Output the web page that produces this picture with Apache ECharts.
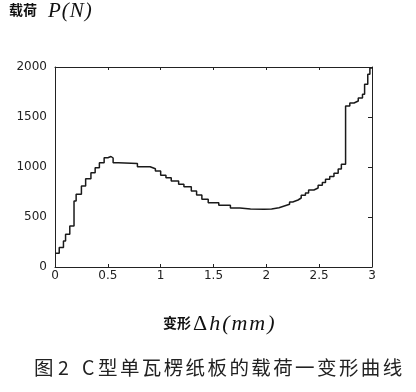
<!DOCTYPE html>
<html>
<head>
<meta charset="utf-8">
<script src="https://cdn.jsdelivr.net/npm/echarts@6/dist/echarts.min.js"></script>
<style>html,body{margin:0;padding:0;background:#fff;}#c{width:416px;height:392px;}</style>
</head>
<body>
<div id="c"></div>
<script>
// Deformation Δh (mm) where each load step begins
var deformation = [0, 0.04, 0.08, 0.10, 0.14, 0.18, 0.20, 0.25, 0.29, 0.34, 0.38, 0.42, 0.465, 0.50, 0.53, 0.55, 0.60,
  0.78, 0.90, 0.95, 1.00, 1.05, 1.10, 1.17, 1.22, 1.29, 1.34, 1.39, 1.45, 1.55, 1.66, 1.75, 1.85, 1.98,
  2.05, 2.12, 2.17, 2.22, 2.25, 2.30, 2.33, 2.37, 2.40, 2.45, 2.49, 2.53, 2.56, 2.60, 2.64, 2.68, 2.71,
  2.75, 2.79, 2.83, 2.87, 2.91, 2.93, 2.96, 2.98, 3.00];
// Load P (N)
var load = [137, 194, 260, 327, 410, 660, 727, 810, 883, 943, 993, 1043, 1093, 1105, 1090, 1043, 1035,
  1003, 983, 960, 917, 893, 860, 827, 803, 760, 720, 677, 643, 617, 590, 580, 577, 580,
  593, 610, 627, 650, 670, 690, 717, 740, 770, 790, 817, 845, 877, 905, 937, 980, 1027,
  1610, 1640, 1660, 1690, 1727, 1827, 1927, 1990, 2000];
var xTickLabels = ['0', '0.5', '1', '1.5', '2', '2.5', '3'];
var yTickLabels = ['0', '500', '1000', '1500', '2000'];
var titleCN = '载荷';
var titleSym = 'P(N)';
var xNameCN = '变形';
var xNameDelta = 'Δ';
var xNameSym = 'h(mm)';
var caption = ['图', '2', 'C', '型', '单', '瓦', '楞', '纸', '板', '的', '载', '荷', '一', '变', '形', '曲', '线'];

var chart = echarts.init(document.getElementById('c'), null, {renderer: 'canvas'});
var pts = deformation.map(function (x, i) { return [x, load[i]]; });

var capX = [34, 58, 82];
var capGraphics = caption.map(function (ch, i) {
  var x = i < 3 ? capX[i] : 98 + (i - 3) * 21.9;
  return {
    type: 'text', left: x, top: 358,
    style: {text: ch, font: '400 19.5px "Noto Sans CJK SC", sans-serif', fill: '#222'}
  };
});

function symText(str) {
  return str.split('').map(function (c) { return '{b|' + c + '}'; }).join('');
}

var axisLineStyle = {show: true, onZero: false, lineStyle: {color: '#222', width: 1}};

var option = {
  animation: false,
  grid: {left: 55, right: 44, top: 67, height: 200},
  xAxis: [{
    type: 'value', min: 0, max: 3, interval: 0.5, position: 'bottom',
    axisLine: axisLineStyle,
    axisTick: {show: true, inside: true, length: 3, lineStyle: {color: '#222'}},
    axisLabel: {margin: 3, color: '#222', fontFamily: 'DejaVu Sans', fontSize: 12,
      formatter: function (v) { return xTickLabels[Math.round(v / 0.5)]; }},
    splitLine: {show: false}
  }, {
    type: 'value', min: 0, max: 3, interval: 0.5, position: 'top',
    axisLine: axisLineStyle,
    axisTick: {show: true, inside: true, length: 3, lineStyle: {color: '#222'}},
    axisLabel: {show: false}, splitLine: {show: false}
  }],
  yAxis: [{
    type: 'value', min: 0, max: 2000, interval: 500, position: 'left',
    axisLine: axisLineStyle,
    axisTick: {show: false},
    axisLabel: {margin: 8, color: '#222', fontFamily: 'DejaVu Sans', fontSize: 12,
      formatter: function (v) { return yTickLabels[Math.round(v / 500)]; }},
    splitLine: {show: false}
  }, {
    type: 'value', min: 0, max: 2000, interval: 500, position: 'right',
    axisLine: axisLineStyle,
    axisTick: {show: true, inside: true, length: 4, lineStyle: {color: '#222'}},
    axisLabel: {show: false}, splitLine: {show: false}
  }],
  series: [{
    type: 'line', xAxisIndex: 0, yAxisIndex: 0, step: 'end', showSymbol: false,
    data: pts, lineStyle: {color: '#1a1a1a', width: 1.5}
  }],
  graphic: [{
    type: 'text', left: 9, top: 3,
    style: {text: titleCN, font: 'bold 14px "Noto Sans CJK SC", sans-serif', fill: '#111'}
  }, {
    type: 'text', left: 48, top: 1,
    style: {
      text: symText(titleSym),
      rich: {b: {font: 'italic 21px "Liberation Serif", serif', fill: '#111', padding: [0, 0.5, 0, 0.5]}}
    }
  }, {
    type: 'text', left: 163, top: 316,
    style: {text: xNameCN, font: 'bold 14px "Noto Sans CJK SC", sans-serif', fill: '#111'}
  }, {
    type: 'text', left: 193, top: 313,
    style: {
      text: '{d|' + xNameDelta + '}' + symText(xNameSym),
      rich: {
        d: {font: '22px "Liberation Serif", serif', fill: '#111', padding: [0, 1, 0, 0]},
        b: {font: 'italic 22px "Liberation Serif", serif', fill: '#111', padding: [0, 1, 0, 1]}
      }
    }
  }].concat(capGraphics)
};
chart.setOption(option);
</script>
</body>
</html>
